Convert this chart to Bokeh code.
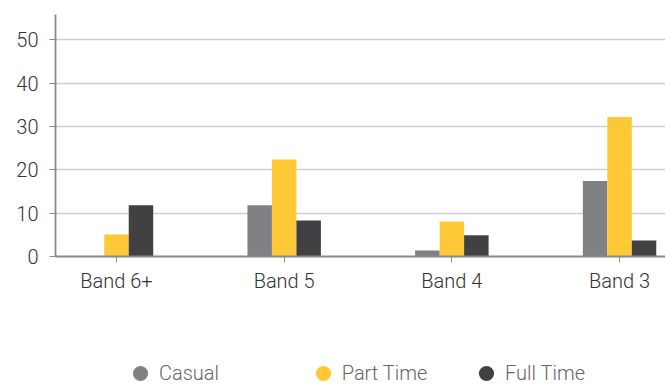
from bokeh.plotting import figure
from bokeh.models import (Range1d, FixedTicker, Legend, LegendItem, ColumnDataSource)
from bokeh.layouts import column
from bokeh.embed import file_html
from bokeh.resources import INLINE

categories = ["Band 6+", "Band 5", "Band 4", "Band 3"]
casual = [0, 11.8, 1.4, 17.4]
part_time = [5.1, 22.4, 8.1, 32.2]
full_time = [11.8, 8.3, 4.9, 3.7]
y_ticks = [0, 10, 20, 30, 40, 50]
series_names = ["Casual", "Part Time", "Full Time"]
colors = ["#808184", "#FFC836", "#414143"]

FONT = "Roboto Light, Roboto"

p = figure(width=665, height=300, output_backend="svg", toolbar_location=None,
           x_range=Range1d(-0.3637, 3.274), y_range=Range1d(0, 55.84),
           min_border_left=55, min_border_right=0, min_border_top=14, min_border_bottom=44)
p.outline_line_color = None
p.background_fill_color = "white"

idx = list(range(len(categories)))
bw = 0.146
offsets = [-bw, 0.0, bw]
for vals, off, col in zip([casual, part_time, full_time], offsets, colors):
    src = ColumnDataSource(dict(x=[i + off for i in idx], top=vals))
    p.vbar(x="x", top="top", bottom=0, width=bw, source=src, fill_color=col, line_color=None)

# axes
p.xaxis.ticker = FixedTicker(ticks=idx)
p.xaxis.major_label_overrides = {i: c for i, c in zip(idx, categories)}
p.xaxis.minor_tick_line_color = None
p.xaxis.major_tick_out = 6
p.xaxis.major_tick_in = 0
p.xaxis.major_tick_line_color = "#888888"
p.xaxis.axis_line_color = "#888888"
p.xaxis.axis_line_width = 1.8
p.xaxis.major_label_text_font = FONT
p.xaxis.major_label_text_font_size = "20px"
p.xaxis.major_label_text_color = "#333333"
p.xaxis.major_label_standoff = 6

p.yaxis.ticker = FixedTicker(ticks=y_ticks)
p.yaxis.minor_tick_line_color = None
p.yaxis.major_tick_out = 6
p.yaxis.major_tick_in = 0
p.yaxis.major_tick_line_color = "#888888"
p.yaxis.axis_line_color = "#888888"
p.yaxis.axis_line_width = 1.8
p.yaxis.major_label_text_font = FONT
p.yaxis.major_label_text_font_size = "20px"
p.yaxis.major_label_text_color = "#333333"
p.yaxis.major_label_standoff = 11
p.yaxis.major_label_text_baseline = "alphabetic"

p.xgrid.grid_line_color = None
p.ygrid.grid_line_color = "#cfcfcf"
p.ygrid.grid_line_width = 1.3

# legend strip
p2 = figure(width=665, height=88, output_backend="svg", toolbar_location=None,
            x_range=Range1d(0, 1), y_range=Range1d(0, 1),
            min_border=0, min_border_left=0, min_border_right=0,
            min_border_top=0, min_border_bottom=0)
p2.axis.visible = False
p2.grid.visible = False
p2.outline_line_color = None

legend_x = [66, 248.7, 412]
nan = float("nan")
for name, col, lx in zip(series_names, colors, legend_x):
    r = p2.scatter(x=[nan], y=[nan], marker="circle", fill_color=col, line_color=None)
    leg = Legend(items=[LegendItem(label=name, renderers=[r])], location=(lx, -4),
                 orientation="horizontal", glyph_width=38, glyph_height=38,
                 label_standoff=-3, padding=0, margin=0, border_line_color=None,
                 background_fill_alpha=0, label_text_font=FONT,
                 label_text_font_size="20px", label_text_color="#666666")
    p2.add_layout(leg, "center")

layout = column(p, p2, spacing=0)
open("out.html", "w").write(file_html(layout, INLINE))
